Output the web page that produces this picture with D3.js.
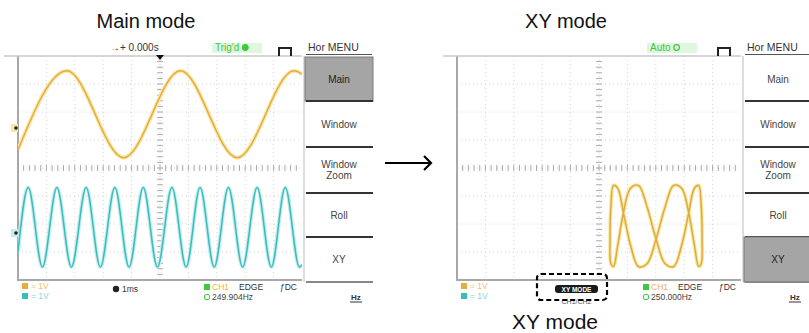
<!DOCTYPE html>
<html>
<head>
<meta charset="utf-8">
<script src="https://cdn.jsdelivr.net/npm/d3@7"></script>
<style>
  body { margin: 0; background: #fff; }
  svg { display: block; }
</style>
</head>
<body>
<div id="chart"></div>
<script>
// Panel titles and readouts.
const panelTitles = ["Main mode", "XY mode"];
const menuItems = ["Main", "Window", "Window|Zoom", "Roll", "XY"];
const activeMenu = ["Main", "XY"];
const trigStatus = ["Trig'd", "Auto"];
const trigFreq = ["249.904Hz", "250.000Hz"];
const chScale = ["= 1V", "= 1V"];

// CH1 extrema (divisions from left edge on x, divisions from centre on y).
const ch1Points = [
  [0, 0.65], [1.72, 3.47], [3.72, 0.37], [5.72, 3.47],
  [7.72, 0.37], [9.72, 3.47], [10, 3.35]
];

// CH2 extrema.
const ch2Points = [
  [0, -3.0], [0.36, -0.70], [0.86, -3.54], [1.37, -0.70], [1.88, -3.54],
  [2.40, -0.70], [2.90, -3.54], [3.41, -0.70], [3.91, -3.54], [4.41, -0.70],
  [4.91, -3.54], [5.42, -0.70], [5.92, -3.54], [6.41, -0.70], [6.91, -3.54],
  [7.41, -0.70], [7.91, -3.54], [8.42, -0.70], [8.92, -3.54], [9.41, -0.70],
  [9.91, -3.54], [10, -3.45]
];

// XY trace (CH1 on x, CH2 on y), closed loop.
const xyTrace = [
  [7.01, -2.54], [7.33, -3.42], [7.63, -3.52], [7.91, -2.76],
  [8.16, -1.60], [8.36, -0.72], [8.51, -0.62], [8.60, -1.38],
  [8.63, -2.54], [8.60, -3.42], [8.51, -3.52], [8.36, -2.76],
  [8.16, -1.60], [7.91, -0.72], [7.63, -0.62], [7.33, -1.38],
  [7.01, -2.54], [6.69, -3.42], [6.39, -3.52], [6.11, -2.76],
  [5.86, -1.60], [5.66, -0.72], [5.51, -0.62], [5.42, -1.38],
  [5.39, -2.54], [5.42, -3.42], [5.51, -3.52], [5.66, -2.76],
  [5.86, -1.60], [6.11, -0.72], [6.39, -0.62], [6.69, -1.38]
];

const width = 809, height = 333;
const screenOffsets = [0, 439];
const menuBounds = [57, 101, 147, 193, 237, 282];

const C1 = "#e6ad3c", C1light = "#f9e6a8";
const C2 = "#3bbcbc", C2light = "#c4eeee";
const font = "'Liberation Sans', Arial, sans-serif";

const svg = d3.select("#chart").append("svg")
  .attr("width", width)
  .attr("height", height);

const x = d3.scaleLinear().domain([0, 10]).range([18, 302]);
const y = d3.scaleLinear().domain([-4, 4]).range([280, 56]);

const defs = svg.append("defs");
defs.append("clipPath").attr("id", "gridClip")
  .append("rect")
    .attr("x", 18).attr("y", 56)
    .attr("width", 284).attr("height", 224);

screenOffsets.forEach((ox, i) => drawScreen(ox, i));

// Titles.
svg.selectAll(".title")
  .data(panelTitles)
  .enter()
  .append("text")
    .attr("x", (d, i) => [146, 566][i])
    .attr("y", 28)
    .attr("text-anchor", "middle")
    .attr("font-family", font)
    .attr("font-size", "20px")
    .attr("fill", "#111")
    .text(d => d);

svg.append("text")
  .attr("x", 555)
  .attr("y", 329)
  .attr("text-anchor", "middle")
  .attr("font-family", font)
  .attr("font-size", "21px")
  .attr("fill", "#111")
  .text(panelTitles[1]);

// Arrow between the two screens.
svg.append("path")
  .attr("d", "M385,163H431M424,156L431,163L424,170")
  .attr("fill", "none")
  .attr("stroke", "#000")
  .attr("stroke-width", 2.2);


function drawScreen(ox, i) {
  const g = svg.append("g").attr("transform", `translate(${ox},0)`);

  drawGrid(g);

  const traces = g.append("g").attr("clip-path", "url(#gridClip)");

  if (i === 0) {
    const line = d3.line()
      .x(d => x(d[0]))
      .y(d => y(d[1]))
      .curve(d3.curveMonotoneX);

    [[ch1Points, C1, C1light], [ch2Points, C2, C2light]].forEach(([pts, c, cl]) => {
      traces.append("path").datum(pts)
        .attr("d", line).attr("fill", "none")
        .attr("stroke", cl).attr("stroke-width", 4);
      traces.append("path").datum(pts)
        .attr("d", line).attr("fill", "none")
        .attr("stroke", c).attr("stroke-width", 1.5);
    });

    // Channel ground markers.
    [[128, C1light], [233, C2light]].forEach(([cy, c]) => {
      g.append("rect").attr("x", 11).attr("y", cy - 4)
        .attr("width", 7).attr("height", 8).attr("fill", c);
      g.append("circle").attr("cx", 16).attr("cy", cy).attr("r", 1.8).attr("fill", "#222");
    });

    // Trigger position marker and delay readout.
    g.append("path").attr("d", "M156,55L164,55L160,60Z").attr("fill", "#111");
    g.append("text")
      .attr("x", 110).attr("y", 51)
      .attr("font-family", font).attr("font-size", "10px").attr("fill", "#333")
      .text("\u2192+ 0.000s");

    g.append("circle").attr("cx", 116).attr("cy", 289).attr("r", 3.2).attr("fill", "#222");
    g.append("text")
      .attr("x", 122).attr("y", 292)
      .attr("font-family", font).attr("font-size", "8.5px").attr("fill", "#333")
      .text("1ms");
  } else {
    const lineXY = d3.line()
      .x(d => x(d[0]))
      .y(d => y(d[1]))
      .curve(d3.curveCatmullRomClosed);

    traces.append("path").datum(xyTrace)
      .attr("d", lineXY).attr("fill", "none")
      .attr("stroke", "#f7e58a").attr("stroke-width", 3.5);
    traces.append("path").datum(xyTrace)
      .attr("d", lineXY).attr("fill", "none")
      .attr("stroke", "#e0a64a").attr("stroke-width", 1.4);

    // XY MODE badge with callout box.
    g.append("rect")
      .attr("x", 116).attr("y", 285).attr("width", 43).attr("height", 8)
      .attr("rx", 3).attr("fill", "#1a1a1a");
    g.append("text")
      .attr("x", 137.5).attr("y", 291.5)
      .attr("text-anchor", "middle")
      .attr("font-family", font).attr("font-size", "6.5px").attr("font-weight", "bold")
      .attr("fill", "#fff")
      .text("XY MODE");
    g.append("text")
      .attr("x", 137.5).attr("y", 304)
      .attr("text-anchor", "middle")
      .attr("font-family", font).attr("font-size", "7px")
      .attr("fill", "#555")
      .text("CH1/CH2");
    g.append("rect")
      .attr("x", 98).attr("y", 274).attr("width", 70).attr("height", 26)
      .attr("rx", 4).attr("fill", "none")
      .attr("stroke", "#000").attr("stroke-width", 2.2)
      .attr("stroke-dasharray", "5,3");
  }

  // Trigger status.
  const ts = i === 0 ? [212, 50] : [208, 50];
  g.append("rect")
    .attr("x", ts[0]).attr("y", 43).attr("width", ts[1]).attr("height", 10)
    .attr("fill", "#dff7df");
  const st = g.append("text")
    .attr("x", ts[0] + 3).attr("y", 51)
    .attr("font-family", font).attr("font-size", "10px").attr("fill", "#3cc83c")
    .text(trigStatus[i]);
  const stW = st.node().getComputedTextLength();
  g.append("circle")
    .attr("cx", ts[0] + 3 + stW + 6).attr("cy", 47.5).attr("r", 2.8)
    .attr("fill", i === 0 ? "#3cc83c" : "none")
    .attr("stroke", "#3cc83c").attr("stroke-width", 1.2);

  // Pulse icon.
  g.append("path")
    .attr("d", "M279,56V48H291V56")
    .attr("fill", "none").attr("stroke", "#222").attr("stroke-width", 2);

  // Menu title.
  g.append("text")
    .attr("x", 308).attr("y", 51)
    .attr("font-family", font).attr("font-size", "10.5px").attr("fill", "#333")
    .text("Hor MENU");
  g.append("line")
    .attr("x1", 306).attr("x2", 372).attr("y1", 54.5).attr("y2", 54.5)
    .attr("stroke", "#555").attr("stroke-width", 1);

  drawMenu(g, i);
  drawReadouts(g, i);
}


function drawGrid(g) {
  const grid = g.append("g");

  grid.selectAll(".vline")
    .data(d3.range(1, 10))
    .enter()
    .append("line")
      .attr("x1", d => x(d)).attr("x2", d => x(d))
      .attr("y1", y(4)).attr("y2", y(-4))
      .attr("stroke", "#d4d4d4")
      .attr("stroke-width", 1)
      .attr("stroke-dasharray", "1,3");

  grid.selectAll(".hline")
    .data(d3.range(-3, 4))
    .enter()
    .append("line")
      .attr("x1", x(0)).attr("x2", x(10))
      .attr("y1", d => y(d)).attr("y2", d => y(d))
      .attr("stroke", "#d4d4d4")
      .attr("stroke-width", 1)
      .attr("stroke-dasharray", "1,3");

  // Minor ticks along the centre axes.
  grid.selectAll(".xtick")
    .data(d3.range(0, 50).map(k => k / 5))
    .enter()
    .append("line")
      .attr("x1", d => x(d)).attr("x2", d => x(d))
      .attr("y1", y(0) - 3).attr("y2", y(0) + 3)
      .attr("stroke", "#aaa");

  grid.selectAll(".ytick")
    .data(d3.range(-20, 20).map(k => k / 5))
    .enter()
    .append("line")
      .attr("x1", x(5) - 3).attr("x2", x(5) + 3)
      .attr("y1", d => y(d)).attr("y2", d => y(d))
      .attr("stroke", "#aaa");

  // Border.
  grid.append("path")
    .attr("d", `M${x(0)},${y(4)}V${y(-4)}H${x(10)}`)
    .attr("fill", "none").attr("stroke", "#a8a8a8").attr("stroke-width", 2);
  grid.append("line")
    .attr("x1", 4).attr("x2", x(10)).attr("y1", y(4)).attr("y2", y(4))
    .attr("stroke", "#c8c8c8").attr("stroke-width", 1.5);
}


function drawMenu(g, i) {
  g.append("line")
    .attr("x1", 304).attr("x2", 304).attr("y1", 56).attr("y2", 282)
    .attr("stroke", "#bbb");

  menuItems.forEach((name, k) => {
    const y0 = menuBounds[k], y1 = menuBounds[k + 1];
    const active = name === activeMenu[i];
    if (active) {
      g.append("rect")
        .attr("x", 305).attr("y", y0).attr("width", 68).attr("height", y1 - y0)
        .attr("fill", "#a5a5a5").attr("stroke", "#7a7a7a");
    }
    const lines = name.split("|");
    const mid = (y0 + y1) / 2;
    lines.forEach((t, j) => {
      g.append("text")
        .attr("x", 339)
        .attr("y", mid + 3.5 + (j - (lines.length - 1) / 2) * 11)
        .attr("text-anchor", "middle")
        .attr("font-family", font).attr("font-size", "10px")
        .attr("fill", active ? "#222" : "#444")
        .text(t);
    });
    g.append("line")
      .attr("x1", 306).attr("x2", 373).attr("y1", y1).attr("y2", y1)
      .attr("stroke", k === 4 ? "#888" : "#333").attr("stroke-width", 1.8);
  });
}


function drawReadouts(g, i) {
  const small = "8.5px";

  [[287, C1, "#f0c070"], [297, C2, "#7fd8d8"]].forEach(([yy, c, tc], k) => {
    g.append("rect").attr("x", 22).attr("y", yy - 4)
      .attr("width", 6).attr("height", 6).attr("fill", c);
    g.append("text")
      .attr("x", 31).attr("y", yy + 2)
      .attr("font-family", font).attr("font-size", small).attr("fill", tc)
      .text(chScale[k]);
  });

  g.append("rect").attr("x", 204).attr("y", 284)
    .attr("width", 6).attr("height", 6).attr("fill", "#40c840");
  g.append("text")
    .attr("x", 212).attr("y", 290)
    .attr("font-family", font).attr("font-size", small).attr("fill", "#f0b050")
    .text("CH1");
  g.append("text")
    .attr("x", 239).attr("y", 290)
    .attr("font-family", font).attr("font-size", small).attr("fill", "#333")
    .text("EDGE");
  g.append("text")
    .attr("x", 280).attr("y", 290)
    .attr("font-family", font).attr("font-size", small).attr("fill", "#333")
    .text("\u0192DC");

  g.append("rect").attr("x", 204.5).attr("y", 294.5)
    .attr("width", 5).attr("height", 5).attr("rx", 1.5)
    .attr("fill", "none").attr("stroke", "#40c840");
  g.append("text")
    .attr("x", 212).attr("y", 300)
    .attr("font-family", font).attr("font-size", small).attr("fill", "#444")
    .text(trigFreq[i]);

  g.append("text")
    .attr("x", 351).attr("y", 300)
    .attr("font-family", font).attr("font-size", "8px").attr("font-weight", "bold")
    .attr("fill", "#333")
    .text("Hz");
  g.append("line")
    .attr("x1", 350).attr("x2", 362).attr("y1", 302).attr("y2", 302)
    .attr("stroke", "#333");
}
</script>
</body>
</html>
